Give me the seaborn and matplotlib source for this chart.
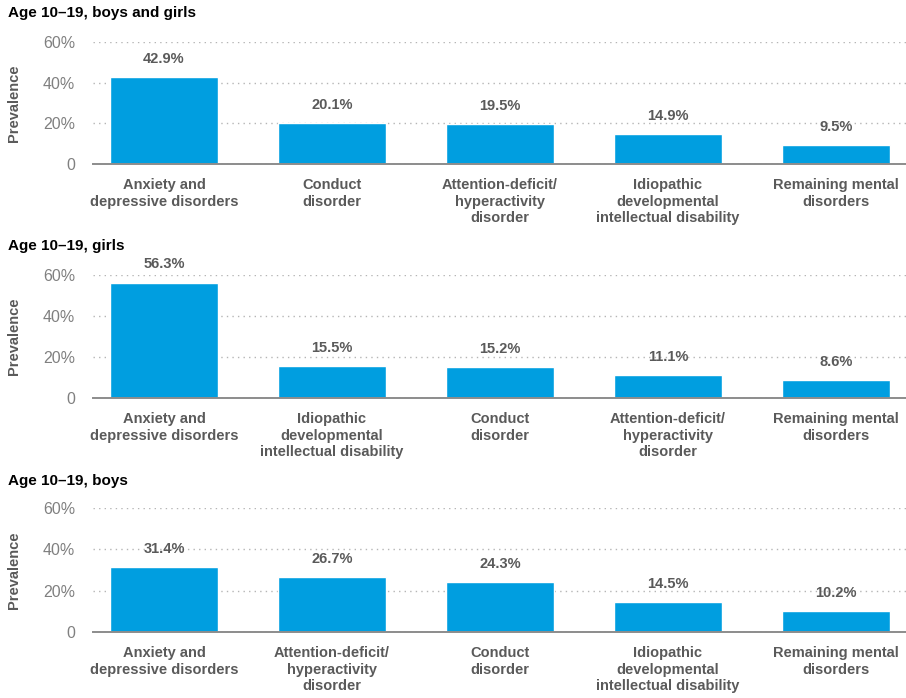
import matplotlib
matplotlib.use("Agg")
import matplotlib.pyplot as plt
import seaborn as sns
import pandas as pd

# panel data: (title, categories, values)
titles = ["Age 10\u201319, boys and girls", "Age 10\u201319, girls", "Age 10\u201319, boys"]

cats_all = ["Anxiety and\ndepressive disorders", "Conduct\ndisorder",
            "Attention-deficit/\nhyperactivity\ndisorder",
            "Idiopathic\ndevelopmental\nintellectual disability",
            "Remaining mental\ndisorders"]
vals_all = [42.9, 20.1, 19.5, 14.9, 9.5]

cats_girls = ["Anxiety and\ndepressive disorders",
              "Idiopathic\ndevelopmental\nintellectual disability",
              "Conduct\ndisorder",
              "Attention-deficit/\nhyperactivity\ndisorder",
              "Remaining mental\ndisorders"]
vals_girls = [56.3, 15.5, 15.2, 11.1, 8.6]

cats_boys = ["Anxiety and\ndepressive disorders",
             "Attention-deficit/\nhyperactivity\ndisorder",
             "Conduct\ndisorder",
             "Idiopathic\ndevelopmental\nintellectual disability",
             "Remaining mental\ndisorders"]
vals_boys = [31.4, 26.7, 24.3, 14.5, 10.2]

yticks = [0, 20, 40, 60]
ytick_labels = ["0", "20%", "40%", "60%"]

sns.set_style("white")
plt.rcParams["font.family"] = ["Liberation Sans", "DejaVu Sans"]

BLUE = "#009ee0"
GRAY = "#5a5a5a"
TICKGRAY = "#808080"

W, H = 906, 698
fig = plt.figure(figsize=(W / 100, H / 100), dpi=100)

# pixel geometry: (y of 60% line, y of zero line, title y)
geom = [(42, 164, 13), (275, 398, 246), (508, 632, 481)]
x_left, x_right = 93, 906
center0, step = 164, 168

panels = [(titles[0], cats_all, vals_all),
          (titles[1], cats_girls, vals_girls),
          (titles[2], cats_boys, vals_boys)]

for (title, cats, vals), (ytop, ybot, ytitle) in zip(panels, geom):
    ax = fig.add_axes([x_left / W, 1 - ybot / H, (x_right - x_left) / W, (ybot - ytop) / H])
    df = pd.DataFrame({"cat": cats, "val": vals})
    sns.barplot(data=df, x="cat", y="val", color=BLUE, saturation=1, width=0.645, ax=ax)
    ax.set_xlim((x_left - center0) / step, (x_right - center0) / step)
    ax.set_ylim(0, 60)
    ax.set_yticks(yticks)
    ax.set_yticklabels(ytick_labels, color=TICKGRAY, fontsize=11.5)
    ax.yaxis.grid(True, linestyle=(0, (1, 3)), color="#b5b5b5", linewidth=1)
    ax.set_axisbelow(True)
    for s in ["top", "right", "left"]:
        ax.spines[s].set_visible(False)
    ax.spines["bottom"].set_color("#8c8c8c")
    ax.spines["bottom"].set_linewidth(1.4)
    ax.tick_params(axis="y", length=0, pad=13)
    ax.tick_params(axis="x", length=0, pad=10)
    for lab in ax.get_xticklabels():
        lab.set_fontweight("bold")
        lab.set_color(GRAY)
        lab.set_fontsize(10.5)
        lab.set_linespacing(1.25)
        lab.set_verticalalignment("top")
    ax.set_xlabel("")
    ax.set_ylabel("Prevalence", fontsize=10.5, fontweight="bold", color=GRAY)
    ax.yaxis.set_label_coords(-0.088, 0.5)
    for i, v in enumerate(vals):
        ax.annotate(f"{v}%", (i, v), xytext=(0, 8), textcoords="offset points",
                    ha="center", va="bottom", fontsize=10.5, fontweight="bold",
                    color=GRAY, clip_on=False)
    fig.text(8 / W, 1 - ytitle / H, title, fontsize=11, fontweight="bold",
             color="black", va="center", ha="left")

fig.savefig("out.png", dpi=100)
